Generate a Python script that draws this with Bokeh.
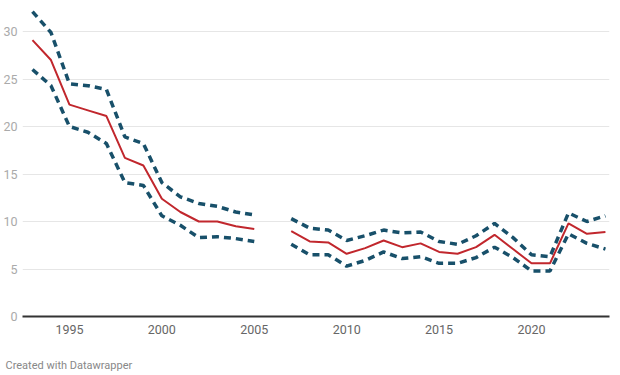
import math
from bokeh.plotting import figure
from bokeh.models import ColumnDataSource, FixedTicker, Range1d, Title
from bokeh.embed import file_html
from bokeh.resources import INLINE

nan = float("nan")
years = list(range(1993, 2025))
estimate = [29.1, 27.0, 22.3, 21.7, 21.1, 16.7, 15.9, 12.4, 11.0, 10.0, 10.0, 9.5, 9.2, nan,
            9.0, 7.9, 7.8, 6.6, 7.2, 8.0, 7.3, 7.7, 6.8, 6.6, 7.3, 8.6, 7.1, 5.6, 5.6, 9.8, 8.7, 8.9]
upper = [32.1, 29.9, 24.5, 24.3, 23.9, 18.9, 18.2, 14.1, 12.6, 11.9, 11.6, 11.0, 10.7, nan,
         10.3, 9.3, 9.1, 8.0, 8.5, 9.1, 8.8, 8.9, 7.9, 7.6, 8.5, 9.8, 8.3, 6.5, 6.3, 10.9, 10.0, 10.6]
lower = [26.0, 24.3, 20.0, 19.4, 18.2, 14.1, 13.8, 10.6, 9.6, 8.3, 8.4, 8.2, 7.9, nan,
         7.6, 6.5, 6.5, 5.3, 5.9, 6.8, 6.1, 6.3, 5.6, 5.6, 6.2, 7.3, 6.2, 4.8, 4.8, 8.7, 7.7, 7.1]
x_ticks = [1995, 2000, 2005, 2010, 2015, 2020]
y_ticks = [0, 5, 10, 15, 20, 25, 30]
footer = "Created with Datawrapper"

src = ColumnDataSource(dict(year=years, est=estimate, up=upper, lo=lower))

p = figure(frame_width=587, frame_height=313, output_backend="svg", toolbar_location=None,
           x_range=Range1d(1992.46, 2024.22), y_range=Range1d(0, 32.95),
           min_border_top=3, min_border_right=8, min_border_left=0, min_border_bottom=0)
p.outline_line_color = None
p.background_fill_color = "white"

FONT = "Roboto"
# y axis
p.yaxis.ticker = FixedTicker(ticks=y_ticks)
p.yaxis.axis_line_color = None
p.yaxis.major_tick_line_color = None
p.yaxis.minor_tick_line_color = None
p.yaxis.major_tick_out = 0
p.yaxis.major_tick_in = 0
p.yaxis.major_label_text_color = "#aaaaaa"
p.yaxis.major_label_text_font = FONT
p.yaxis.major_label_text_font_size = "12.5px"
p.yaxis.major_label_standoff = 5
# x axis
p.xaxis.ticker = FixedTicker(ticks=x_ticks)
p.xaxis.axis_line_color = "#333333"
p.xaxis.axis_line_width = 2
p.xaxis.major_tick_line_color = None
p.xaxis.minor_tick_line_color = None
p.xaxis.major_tick_out = 0
p.xaxis.major_tick_in = 0
p.xaxis.major_label_text_color = "#666666"
p.xaxis.major_label_text_font = FONT
p.xaxis.major_label_text_font_size = "12.5px"
p.xaxis.major_label_standoff = 8

p.xgrid.grid_line_color = None
p.ygrid.ticker = FixedTicker(ticks=y_ticks[1:])
p.ygrid.grid_line_color = "#e6e6e6"
p.ygrid.grid_line_width = 1

p.line("year", "up", source=src, line_color="#18506a", line_width=3.5, line_dash="7 5")
p.line("year", "lo", source=src, line_color="#18506a", line_width=3.5, line_dash="7 5")
p.line("year", "est", source=src, line_color="#c1272d", line_width=2)

spacer = Title(text=" ", text_font=FONT, text_font_size="11px", standoff=0)
p.add_layout(spacer, "below")
t = Title(text=footer, text_font=FONT, text_font_size="11px", text_color="#888888",
          text_font_style="normal", align="left", offset=-17)
p.add_layout(t, "below")

open("out.html", "w").write(file_html(p, INLINE))
